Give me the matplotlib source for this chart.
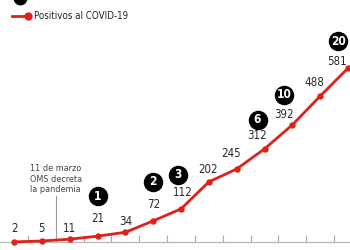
import matplotlib
matplotlib.use('Agg')
import matplotlib.pyplot as plt
import matplotlib.transforms as mtransforms
import numpy as np

# Casos positivos acumulados por día
positivos = [2, 5, 11, 21, 34, 72, 112, 202, 245, 312, 392, 488, 581]
# etiquetas de valor: desplazamiento (px) respecto al punto
label_dx = [0, 0, 0, 0, 0, 0, 2, -1, -6, -8, -8, -6, -11]
label_dy = [13, 12, 11, 18, 11, 16, 16, 12, 15, 13, 10, 14, 7]
# círculos negros numerados (índice del día, número)
badge_idx = [3, 5, 6, 9, 10, 12]
badge_num = ['1', '2', '3', '6', '10', '20']
badge_dx = [0, 0, -3, -7, -8, -10]
badge_dy = [40, 39, 34, 29, 30, 27]

RED = '#e0211b'
TEXT_FONT = ['DejaVu Sans']

fig = plt.figure(figsize=(3.5, 2.5), dpi=100)
ax = fig.add_axes([0, 0, 1, 1])
x = np.arange(len(positivos))

ax.plot(x, positivos, color=RED, linewidth=2.0, marker='o', markersize=3.6,
        zorder=3, clip_on=False)

for xi, v, dx, dy in zip(x, positivos, label_dx, label_dy):
    ax.annotate(str(v), (xi, v), xytext=(dx, dy), textcoords='offset pixels',
                ha='center', va='center', fontsize=8.3, color='#2a2a2a',
                family=TEXT_FONT, fontstretch='condensed')

for i, n, dx, dy in zip(badge_idx, badge_num, badge_dx, badge_dy):
    v = positivos[i]
    tr = mtransforms.offset_copy(ax.transData, fig=fig, x=dx, y=dy, units='dots')
    ax.plot([i], [v], 'o', color='black', markersize=13, transform=tr,
            clip_on=False, zorder=4)
    ax.text(i, v, n, transform=tr, ha='center', va='center', fontsize=8.6,
            fontweight='bold', color='white', family=TEXT_FONT,
            fontstretch='condensed', zorder=5)

# línea del 11 de marzo
ax.plot([1.5, 1.5], [0, 155], color='#9a9a9a', linewidth=0.8, zorder=1)
ax.text(1.5, 211, '11 de marzo\nOMS decreta\nla pandemia', ha='center',
        va='center', multialignment='center', fontsize=6.5, color='#444444',
        linespacing=1.2, family=TEXT_FONT, fontstretch='condensed')

# eje
ax.set_xlim(-0.503, 12.07)
ax.set_ylim(-25, 808)
for s in ['top', 'right', 'left']:
    ax.spines[s].set_visible(False)
ax.spines['bottom'].set_position(('data', 0))
ax.spines['bottom'].set_color('#bbbbbb')
ax.spines['bottom'].set_linewidth(1)
ax.set_xticks(np.arange(0.5, 12, 1))
ax.tick_params(axis='x', direction='in', length=5, width=0.8, color='#aaaaaa',
               labelbottom=False)
ax.set_yticks([])

# leyenda
ax.plot([0.034, 0.08], [0.936, 0.936], color=RED, linewidth=2.0,
        transform=ax.transAxes, clip_on=False)
ax.plot([0.08], [0.936], 'o', color=RED, markersize=5,
        transform=ax.transAxes, clip_on=False)
ax.text(0.097, 0.936, 'Positivos al COVID-19', transform=ax.transAxes,
        ha='left', va='center', fontsize=7, color='#222222',
        family=TEXT_FONT, fontstretch='condensed')
ax.plot([0.057], [1.01], 'o', color='black', markersize=9,
        transform=ax.transAxes, clip_on=False)

fig.savefig('out.png', dpi=100)
plt.close(fig)
